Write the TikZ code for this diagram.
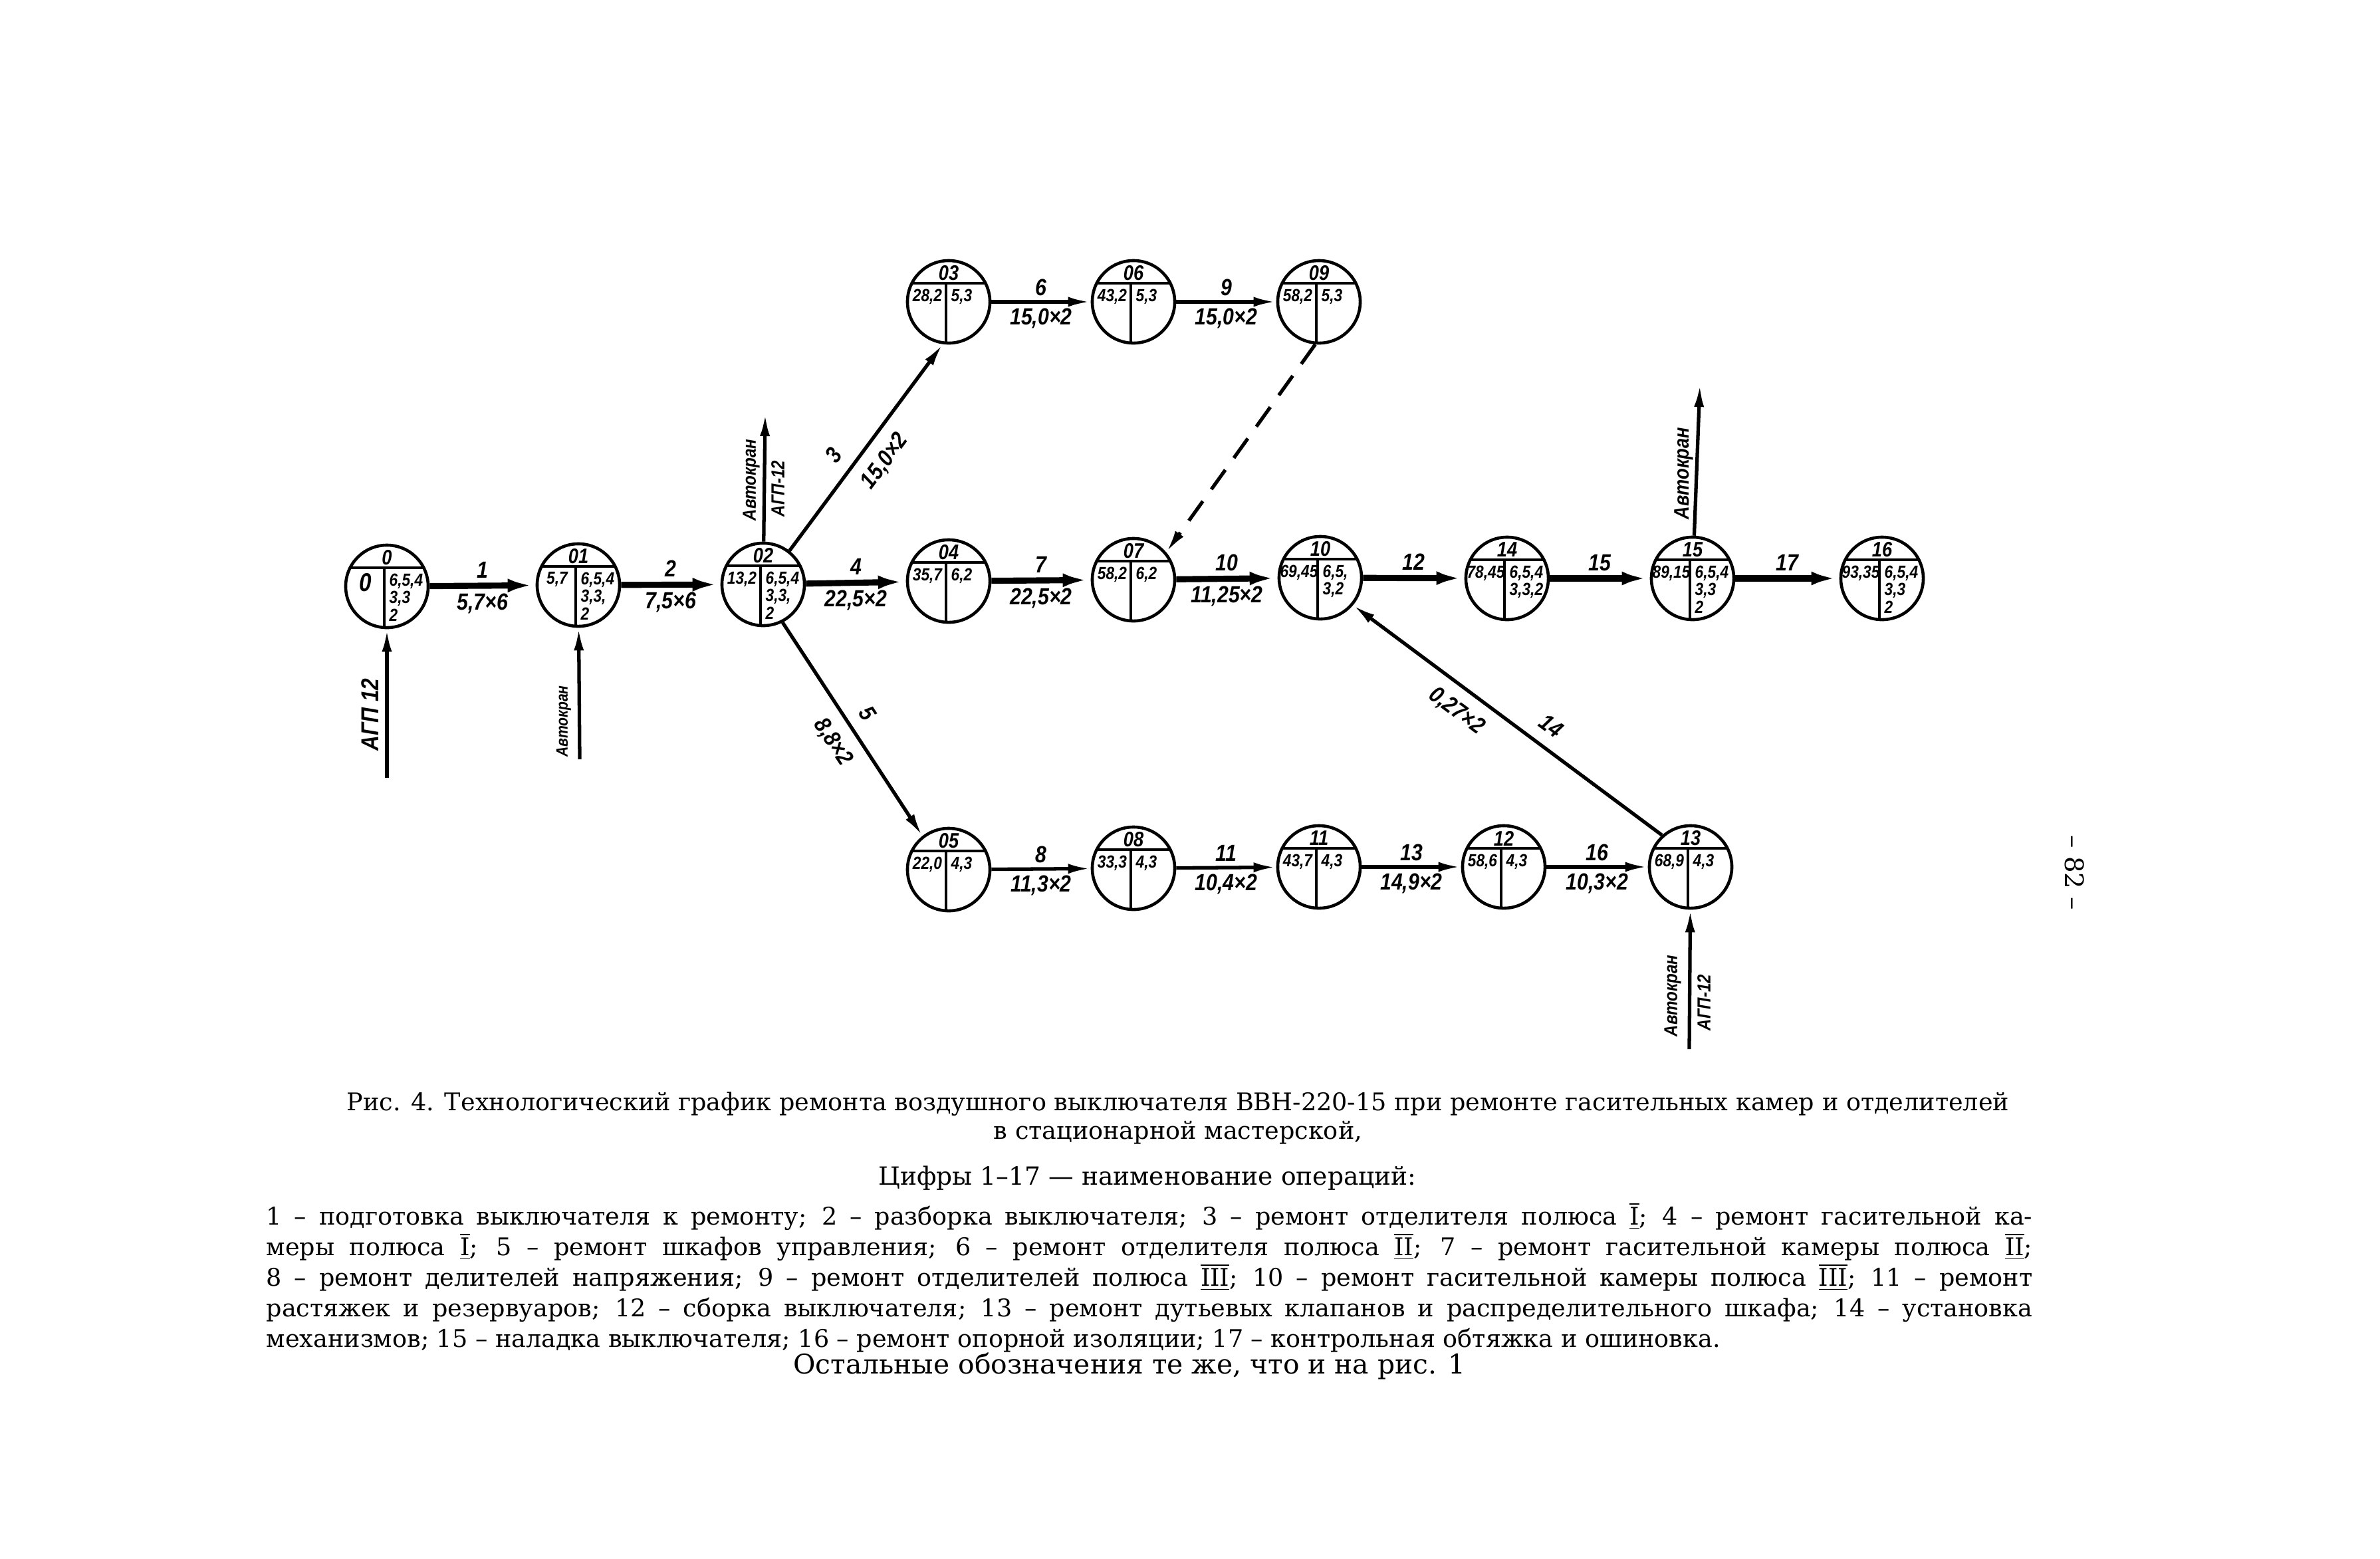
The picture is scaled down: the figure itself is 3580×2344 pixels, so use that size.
\documentclass[tikz,border=0pt]{standalone}
\usepackage{fontspec}
\setmainfont{DejaVu Serif}
\newfontfamily\hand{Liberation Sans}[FakeStretch=0.86]
\usetikzlibrary{arrows.meta}

\tikzset{
  evt/.style={draw, circle, line width=1.3pt, minimum size=1.24cm, inner sep=0pt},
  evtline/.style={line width=1.2pt},
  crit/.style={line width=2.6pt, -{Latex[length=0.42cm,width=0.2cm]}},
  work/.style={line width=1.5pt, -{Latex[length=0.34cm,width=0.15cm]}},
  workback/.style={line width=1.5pt, {Latex[length=0.34cm,width=0.15cm]}-},
  lbl/.style={font=\hand\bfseries\itshape\fontsize{10}{11}\selectfont, inner sep=2pt},
  slbl/.style={lbl, sloped, inner sep=5pt},
  evnum/.style={font=\hand\bfseries\itshape\fontsize{9}{10}\selectfont, inner sep=0pt},
  cell/.style={font=\hand\bfseries\itshape\fontsize{7.5}{7.6}\selectfont, inner sep=0pt},
  res/.style={font=\hand\bfseries\itshape\fontsize{8}{9}\selectfont, rotate=90, inner sep=0pt},
  captext/.style={font=\fontsize{10.4}{12.2}\selectfont, inner sep=0pt},
}

% событие: имя, место, номер, ранний срок, ресурсы
\newcommand\evnode[5]{%
  \node[evt] (#1) at (#2) {};
  \draw[evtline] ([shift={(-55,-28)}]#1.center) -- ([shift={(55,-28)}]#1.center);
  \draw[evtline] ([shift={(-4,-28)}]#1.center) -- ([shift={(-4,62)}]#1.center);
  \node[evnum] at ([shift={(0,-43)}]#1.center) {#3};
  \node[cell, anchor=north] at ([shift={(-32,-20)}]#1.center) {#4};
  \node[cell, anchor=north west, align=left] at ([shift={(3,-20)}]#1.center) {#5};
}
\newcommand\rnum[1]{\ensuremath{\underline{\overline{\mbox{#1}}}}}

\begin{document}
\begin{tikzpicture}[x=0.01cm, y=-0.01cm]
\useasboundingbox (0,0) rectangle (3580,2344);

% События
\evnode{E0}{582,882}{0}{\fontsize{11}{11}\selectfont 0}{6,5,4\\3,3\\2}
\evnode{E01}{870,880}{01}{5,7}{6,5,4\\3,3,\\2}
\evnode{E02}{1148,879}{02}{13,2}{6,5,4\\3,3,\\2}
\evnode{E03}{1427,454}{03}{28,2}{5,3}
\evnode{E06}{1705,454}{06}{43,2}{5,3}
\evnode{E09}{1984,454}{09}{58,2}{5,3}
\evnode{E04}{1427,874}{04}{35,7}{6,2}
\evnode{E07}{1705,872}{07}{58,2}{6,2}
\evnode{E10}{1986,869}{10}{69,45}{6,5,\\3,2}
\evnode{E14}{2267,870}{14}{78,45}{6,5,4\\3,3,2}
\evnode{E15}{2546,870}{15}{89,15}{6,5,4\\3,3\\2}
\evnode{E16}{2831,870}{16}{93,35}{6,5,4\\3,3\\2}
\evnode{E05}{1427,1308}{05}{22,0}{4,3}
\evnode{E08}{1705,1306}{08}{33,3}{4,3}
\evnode{E11}{1984,1304}{11}{43,7}{4,3}
\evnode{E12}{2262,1304}{12}{58,6}{4,3}
\evnode{E13}{2543,1304}{13}{68,9}{4,3}

% Работы
\draw[crit] (E0) -- node[lbl,above]{1} node[lbl,below]{5,7×6} (E01);
\draw[crit] (E01) -- node[lbl,above]{2} node[lbl,below]{7,5×6} (E02);
\draw[crit] (E02) -- node[lbl,above]{4} node[lbl,below]{22,5×2} (E04);
\draw[crit] (E04) -- node[lbl,above]{7} node[lbl,below]{22,5×2} (E07);
\draw[crit] (E07) -- node[lbl,above]{10} node[lbl,below]{11,25×2} (E10);
\draw[crit] (E10) -- node[lbl,above]{12} (E14);
\draw[crit] (E14) -- node[lbl,above]{15} (E15);
\draw[crit] (E15) -- node[lbl,above]{17} (E16);

\draw[work] (E02.52) -- node[slbl,above,pos=0.4]{3} node[slbl,below,pos=0.5]{15,0×2} (E03.262);
\draw[work] (E03) -- node[lbl,above]{6} node[lbl,below]{15,0×2} (E06);
\draw[work] (E06) -- node[lbl,above]{9} node[lbl,below]{15,0×2} (E09);
\draw[work, dash pattern=on 0.36cm off 0.22cm] (E09.265) -- (E07.40);

\draw[work] (E02.297) -- node[slbl,above,pos=0.48]{5} node[slbl,below,pos=0.5]{8,8×2} (E05.128);
\draw[work] (E05) -- node[lbl,above]{8} node[lbl,below]{11,3×2} (E08);
\draw[work] (E08) -- node[lbl,above]{11} node[lbl,below]{10,4×2} (E11);
\draw[work] (E11) -- node[lbl,above]{13} node[lbl,below]{14,9×2} (E12);
\draw[work] (E12) -- node[lbl,above]{16} node[lbl,below]{10,3×2} (E13);
\draw[workback] (E10.320) -- node[slbl,above,pos=0.6]{14} node[slbl,below,pos=0.38]{0,27×2} (E13.132);

% Механизмы
\coordinate (S0) at (582,1170);
\draw[work] (S0) -- (E0);
\node[res, font=\hand\bfseries\itshape\fontsize{10.5}{11}\selectfont] (L0) at (557,1075) {АГП 12};
\coordinate (S01) at (872,1142);
\draw[work] (S01) -- (E01);
\node[res, font=\hand\bfseries\itshape\fontsize{7}{8}\selectfont] (L01) at (848,1085) {Автокран};
\coordinate (T02) at (1151,622);
\draw[work] (E02) -- (T02);
\node[res] (L02a) at (1130,722) {Автокран};
\node[res] (L02b) at (1170,735) {АГП-12};
\coordinate (T15) at (2557,578);
\draw[work] (E15) -- (T15);
\node[res, font=\hand\bfseries\itshape\fontsize{9}{10}\selectfont] (L15) at (2533,712) {Автокран};
\coordinate (S13) at (2541,1578);
\draw[work] (S13) -- (E13);
\node[res] (L13a) at (2516,1498) {Автокран};
\node[res] (L13b) at (2563,1508) {АГП-12};

% Подпись
\node[captext, anchor=north, align=center] (Cap) at (1772,1642)
  {Рис. 4. Технологический график ремонта воздушного выключателя ВВН-220-15 при ремонте гасительных камер и отделителей\\в стационарной мастерской,};
\node[captext, font=\fontsize{10.7}{12}\selectfont] (Legend) at (1726,1772) {Цифры 1–17 — наименование операций:};
\node[captext, font=\fontsize{10.4}{13.1}\selectfont, anchor=north west, text width=26.55cm, align=justify] (Ops) at (400,1808)
  {\noindent\hyphenpenalty=10000 1 – подготовка выключателя к ремонту; 2 – разборка выключателя; 3 – ремонт отделителя полюса \rnum{I}; 4 – ремонт гасительной ка-\linebreak
  меры полюса \rnum{I}; 5 – ремонт шкафов управления; 6 – ремонт отделителя полюса \rnum{II}; 7 – ремонт гасительной камеры полюса \rnum{II};\linebreak
  8 – ремонт делителей напряжения; 9 – ремонт отделителей полюса \rnum{III}; 10 – ремонт гасительной камеры полюса \rnum{III}; 11 – ремонт\linebreak
  растяжек и резервуаров; 12 – сборка выключателя; 13 – ремонт дутьевых клапанов и распределительного шкафа; 14 – установка\linebreak
  механизмов; 15 – наладка выключателя; 16 – ремонт опорной изоляции; 17 – контрольная обтяжка и ошиновка.};
\node[captext, font=\fontsize{11.6}{13}\selectfont] (Rest) at (1699,2055) {Остальные обозначения те же, что и на рис. 1};
\node[captext, rotate=-90, font=\fontsize{11}{12}\selectfont] (Page) at (3121,1313) {– 82 –};

\end{tikzpicture}
\end{document}
